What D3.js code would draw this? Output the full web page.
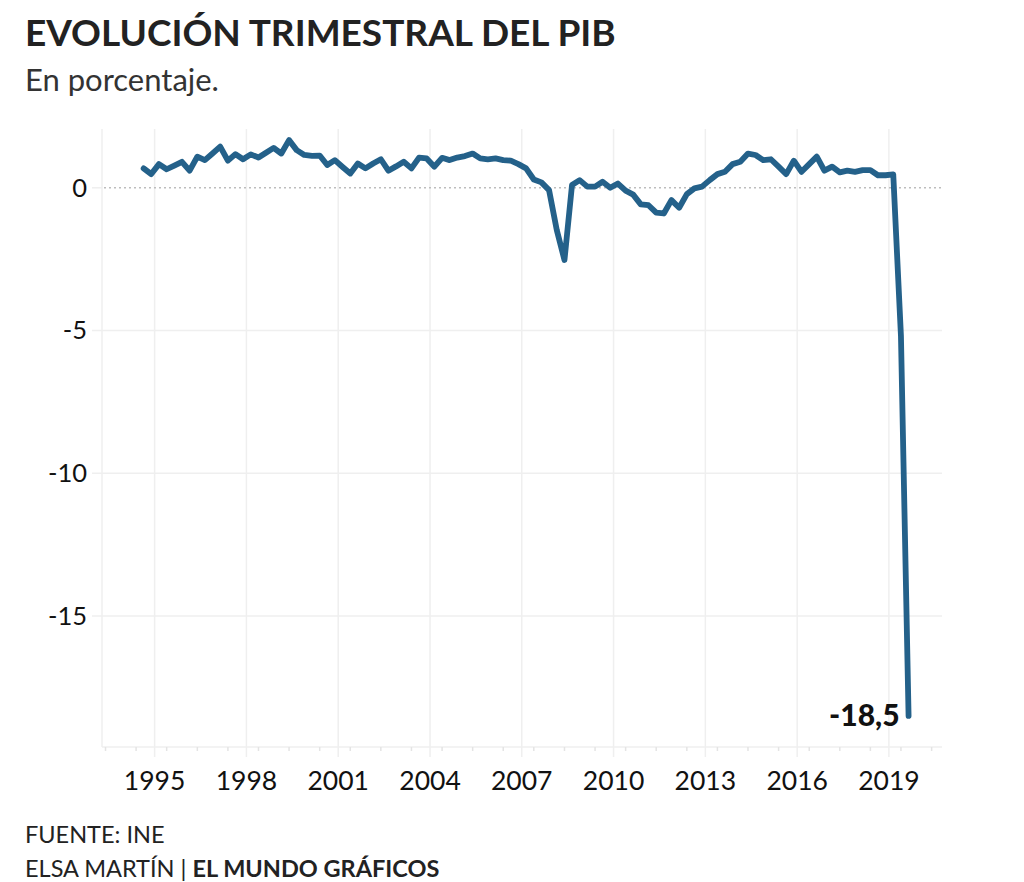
<!DOCTYPE html>
<html>
<head>
<meta charset="utf-8">
<script src="https://cdn.jsdelivr.net/npm/d3@7"></script>
<style>
  body { margin: 0; background: #fff; }
  svg { display: block; font-family: Lato, "Noto Sans", sans-serif; }
</style>
</head>
<body>
<div id="chart"></div>
<script>
// quarterly GDP change (%), first quarter is 1995 Q2, last is 2020 Q2
const firstYear = 1995, firstQuarter = 2;
const pib = [
  0.68, 0.48, 0.83, 0.65, 0.78, 0.91, 0.60, 1.09, 0.97, 1.20,
  1.44, 0.95, 1.18, 1.00, 1.17, 1.06, 1.23, 1.40, 1.20, 1.67,
  1.32, 1.15, 1.12, 1.13, 0.80, 0.97, 0.73, 0.50, 0.85, 0.68,
  0.85, 1.00, 0.60, 0.75, 0.91, 0.68, 1.06, 1.03, 0.74, 1.05,
  0.97, 1.06, 1.11, 1.20, 1.03, 1.00, 1.03, 0.97, 0.95, 0.83,
  0.68, 0.29, 0.19, -0.08, -1.48, -2.53, 0.10, 0.27, 0.04, 0.04,
  0.21, 0.00, 0.15, -0.10, -0.24, -0.58, -0.61, -0.87, -0.90, -0.43,
  -0.70, -0.22, -0.02, 0.04, 0.27, 0.48, 0.56, 0.83, 0.91, 1.20,
  1.15, 0.97, 1.00, 0.74, 0.48, 0.95, 0.56, 0.83, 1.09, 0.60,
  0.74, 0.54, 0.60, 0.56, 0.62, 0.62, 0.44, 0.44, 0.47, -5.2,
  -18.5
];
const yearTicks = [1995, 1998, 2001, 2004, 2007, 2010, 2013, 2016, 2019];
const valueTicks = [0, -5, -10, -15];

const title = "EVOLUCIÓN TRIMESTRAL DEL PIB";
const subtitle = "En porcentaje.";
const source = "FUENTE: INE";
const author = "ELSA MARTÍN | ";
const brand = "EL MUNDO GRÁFICOS";

const data = pib.map((v, i) => ({
  date: new Date(firstYear, (firstQuarter - 1) * 3 + i * 3, 1),
  value: v
}));

const width = 1024, height = 882;
const plot = { left: 102, right: 942, top: 129, bottom: 747 };

// spanish number format, plain hyphen as minus
const es = d3.formatLocale({ decimal: ",", thousands: ".", grouping: [3], currency: ["", " €"], minus: "-" });
const fmt = es.format(".1f");

const x = d3.scaleTime()
  .domain([new Date(1993, 10, 20), new Date(2021, 4, 5)])
  .range([plot.left, plot.right]);
const y = d3.scaleLinear()
  .domain([2.06, -19.59])
  .range([plot.top, plot.bottom]);

const svg = d3.select("#chart").append("svg")
  .attr("width", width)
  .attr("height", height);

const grid = "#efefef";

// horizontal grid lines
svg.append("g")
  .selectAll("line")
  .data(valueTicks.filter(d => d !== 0))
  .join("line")
  .attr("x1", plot.left - 10)
  .attr("x2", plot.right)
  .attr("y1", d => y(d))
  .attr("y2", d => y(d))
  .attr("stroke", grid)
  .attr("stroke-width", 1.5);

// vertical grid lines at the labelled years
const yearDate = yr => new Date(yr, 7, 10);
svg.append("g")
  .selectAll("line")
  .data(yearTicks)
  .join("line")
  .attr("x1", d => x(yearDate(d)))
  .attr("x2", d => x(yearDate(d)))
  .attr("y1", plot.top)
  .attr("y2", plot.bottom + 10)
  .attr("stroke", grid)
  .attr("stroke-width", 1.5);

// plot frame (left and bottom)
svg.append("line")
  .attr("x1", plot.left).attr("x2", plot.left)
  .attr("y1", plot.top).attr("y2", plot.bottom)
  .attr("stroke", grid).attr("stroke-width", 1.5);
svg.append("line")
  .attr("x1", plot.left).attr("x2", plot.right)
  .attr("y1", plot.bottom).attr("y2", plot.bottom)
  .attr("stroke", grid).attr("stroke-width", 1.5);

// minor ticks every year
svg.append("g")
  .selectAll("line")
  .data(x.ticks(d3.timeYear.every(1)))
  .join("line")
  .attr("x1", d => x(d))
  .attr("x2", d => x(d))
  .attr("y1", plot.bottom)
  .attr("y2", plot.bottom + 4)
  .attr("stroke", "#e4e4e4")
  .attr("stroke-width", 1.5);

// zero line
svg.append("line")
  .attr("x1", plot.left - 10).attr("x2", plot.left)
  .attr("y1", y(0)).attr("y2", y(0))
  .attr("stroke", grid).attr("stroke-width", 1.5);
svg.append("line")
  .attr("x1", plot.left + 2).attr("x2", plot.right)
  .attr("y1", y(0)).attr("y2", y(0))
  .attr("stroke", "#bdbdbd")
  .attr("stroke-width", 1.5)
  .attr("stroke-dasharray", "2,3");

// y labels
svg.append("g")
  .selectAll("text")
  .data(valueTicks)
  .join("text")
  .attr("x", 87)
  .attr("y", d => y(d))
  .attr("dy", "0.35em")
  .attr("text-anchor", "end")
  .attr("font-size", 25.5)
  .attr("fill", "#111")
  .text(d => d);

// x labels
svg.append("g")
  .selectAll("text")
  .data(yearTicks)
  .join("text")
  .attr("x", d => x(yearDate(d)))
  .attr("y", 790)
  .attr("text-anchor", "middle")
  .attr("font-size", 26.5)
  .attr("fill", "#111")
  .text(d => d);

// the series
const line = d3.line()
  .x(d => x(d.date))
  .y(d => y(d.value));

svg.append("path")
  .datum(data)
  .attr("d", line)
  .attr("fill", "none")
  .attr("stroke", "#24618a")
  .attr("stroke-width", 5.8)
  .attr("stroke-linejoin", "round")
  .attr("stroke-linecap", "round");

// last value label
const last = data[data.length - 1];
svg.append("text")
  .attr("x", x(last.date) - 9)
  .attr("y", y(last.value) + 10)
  .attr("text-anchor", "end")
  .attr("font-size", 30)
  .attr("font-weight", "900")
  .attr("fill", "#111")
  .text(fmt(last.value));

// titles
svg.append("text")
  .attr("x", 25).attr("y", 46)
  .attr("font-size", 37)
  .attr("font-weight", "bold")
  .attr("fill", "#222")
  .text(title);
svg.append("text")
  .attr("x", 25).attr("y", 91)
  .attr("font-size", 31)
  .attr("fill", "#333")
  .text(subtitle);

// footer
svg.append("text")
  .attr("x", 25).attr("y", 843)
  .attr("font-size", 23.5)
  .attr("fill", "#222")
  .text(source);
const foot = svg.append("text")
  .attr("x", 25).attr("y", 877)
  .attr("font-size", 23.5)
  .attr("fill", "#222");
foot.append("tspan").text(author);
foot.append("tspan").attr("font-weight", "bold").text(brand);
</script>
</body>
</html>
